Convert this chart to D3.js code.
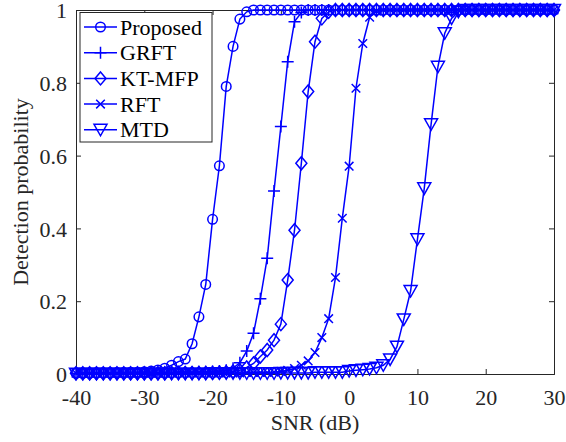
<!DOCTYPE html>
<html><head><meta charset="utf-8">
<script src="https://cdn.jsdelivr.net/npm/d3@7"></script>
<style>body{margin:0;background:#fff}svg{display:block}text{font-family:"Liberation Serif",serif;fill:#262626}</style>
</head><body>
<script>
const snr = [-40,-39,-38,-37,-36,-35,-34,-33,-32,-31,-30,-29,-28,-27,-26,-25,-24,-23,-22,-21,-20,-19,-18,-17,-16,-15,-14,-13,-12,-11,-10,-9,-8,-7,-6,-5,-4,-3,-2,-1,0,1,2,3,4,5,6,7,8,9,10,11,12,13,14,15,16,17,18,19,20,21,22,23,24,25,26,27,28,29,30];
const proposed = [0.002,0.002,0.002,0.003,0.003,0.003,0.004,0.004,0.005,0.005,0.006,0.008,0.011,0.016,0.024,0.034,0.041,0.083,0.157,0.246,0.425,0.572,0.79,0.9,0.975,0.995,1,1,1,1,1,1,1,1,1,1,1,1,1,1,1,1,1,1,1,1,1,1,1,1,1,1,1,1,1,1,1,1,1,1,1,1,1,1,1,1,1,1,1,1,1];
const grft = [0.002,0.002,0.002,0.002,0.002,0.002,0.003,0.003,0.003,0.003,0.003,0.003,0.004,0.004,0.004,0.004,0.005,0.005,0.006,0.006,0.007,0.008,0.01,0.016,0.031,0.063,0.112,0.207,0.318,0.503,0.68,0.858,0.968,0.993,1,1,1,1,1,1,1,1,1,1,1,1,1,1,1,1,1,1,1,1,1,1,1,1,1,1,1,1,1,1,1,1,1,1,1,1,1];
const ktmfp = [0.002,0.002,0.002,0.002,0.002,0.002,0.002,0.002,0.002,0.002,0.002,0.002,0.002,0.002,0.003,0.003,0.003,0.003,0.003,0.003,0.003,0.004,0.005,0.007,0.01,0.018,0.029,0.048,0.066,0.093,0.137,0.258,0.395,0.579,0.776,0.913,0.977,0.995,1,1,1,1,1,1,1,1,1,1,1,1,1,1,1,1,1,1,1,1,1,1,1,1,1,1,1,1,1,1,1,1,1];
const rft = [0.002,0.002,0.002,0.002,0.002,0.002,0.002,0.002,0.002,0.002,0.002,0.002,0.002,0.002,0.002,0.003,0.003,0.003,0.003,0.003,0.003,0.003,0.003,0.003,0.003,0.004,0.004,0.004,0.004,0.005,0.007,0.01,0.015,0.024,0.036,0.059,0.1,0.152,0.265,0.428,0.571,0.785,0.908,0.98,0.997,1,1,1,1,1,1,1,1,1,1,1,1,1,1,1,1,1,1,1,1,1,1,1,1,1,1];
const mtd = [0.001,0.001,0.001,0.001,0.001,0.001,0.001,0.001,0.001,0.001,0.001,0.001,0.001,0.001,0.001,0.001,0.001,0.001,0.001,0.001,0.002,0.002,0.002,0.002,0.002,0.002,0.002,0.002,0.002,0.002,0.003,0.003,0.003,0.003,0.003,0.005,0.005,0.005,0.005,0.005,0.008,0.01,0.012,0.014,0.017,0.024,0.04,0.075,0.15,0.228,0.37,0.51,0.686,0.844,0.936,0.977,0.995,1,1,1,1,1,1,1,1,1,1,1,1,1,1];
const seriesNames = ["Proposed","GRFT","KT-MFP","RFT","MTD"];
const seriesValues = [proposed, grft, ktmfp, rft, mtd];
const seriesMarkers = ["o","+","d","x","v"];
const xTicks = [-40,-30,-20,-10,0,10,20,30];
const yTicks = [0,0.2,0.4,0.6,0.8,1];

const W = 566, H = 442;
const L = 76, R = 554, T = 10, B = 374;
const color = "#0000ff", axisColor = "#262626";
const FONT = '"Liberation Serif", serif';
const svg = d3.select("body").append("svg").attr("width", W).attr("height", H);
const x = d3.scaleLinear().domain([-40,30]).range([L,R]);
const y = d3.scaleLinear().domain([0,1]).range([B,T]);

function markerPath(m){
  if(m==="o") return d3.symbol(d3.symbolCircle, 72)();
  if(m==="+") return "M-6,0H6M0,-6V6";
  if(m==="x") return "M-4.3,-4.3L4.3,4.3M-4.3,4.3L4.3,-4.3";
  if(m==="d") return "M0,-6.5L5.5,0L0,6.5L-5.5,0Z";
  if(m==="v") return "M-6.5,-5.5L6.5,-5.5L0,6Z";
}

const gx = svg.append("g").attr("transform",`translate(0,${B})`)
  .call(d3.axisBottom(x).tickValues(xTicks).tickSize(-5).tickPadding(10).tickFormat(d=>String(d)));
const gxt = svg.append("g").attr("transform",`translate(0,${T})`)
  .call(d3.axisTop(x).tickValues(xTicks).tickSize(-5).tickFormat(""));
const gy = svg.append("g").attr("transform",`translate(${L},0)`)
  .call(d3.axisLeft(y).tickValues(yTicks).tickSize(-5).tickPadding(9).tickFormat(d=>String(d)));
const gyr = svg.append("g").attr("transform",`translate(${R},0)`)
  .call(d3.axisRight(y).tickValues(yTicks).tickSize(-5).tickFormat(""));
[gx,gxt,gy,gyr].forEach(g=>{
  g.attr("font-family", FONT).attr("font-size", 22);
  g.selectAll("path.domain").attr("stroke",axisColor).attr("stroke-width",1);
  g.selectAll(".tick line").attr("stroke",axisColor).attr("stroke-width",1);
  g.selectAll(".tick text").attr("fill",axisColor);
});
gx.selectAll(".tick text").attr("dy","0.95em");
gy.selectAll(".tick text").attr("dy","0.35em");

const line = d3.line().x((d,i)=>x(snr[i])).y(d=>y(d));
seriesValues.forEach((vals,k)=>{
  svg.append("path").datum(vals).attr("d",line).attr("fill","none").attr("stroke",color).attr("stroke-width",1.5);
  svg.append("g").selectAll("path").data(vals).join("path")
    .attr("transform",(d,i)=>`translate(${x(snr[i])},${y(d)})`)
    .attr("d",markerPath(seriesMarkers[k]))
    .attr("fill","none").attr("stroke",color).attr("stroke-width",1.5);
});

const lg = svg.append("g");
lg.append("rect").attr("x",80).attr("y",12.5).attr("width",132).attr("height",129.5)
  .attr("fill","#fff").attr("stroke",axisColor).attr("stroke-width",1);
seriesNames.forEach((n,k)=>{
  const cy = 27 + k*25.7;
  lg.append("line").attr("x1",84).attr("x2",117).attr("y1",cy).attr("y2",cy).attr("stroke",color).attr("stroke-width",1.5);
  lg.append("path").attr("transform",`translate(100.5,${cy})`).attr("d",markerPath(seriesMarkers[k]))
    .attr("fill","none").attr("stroke",color).attr("stroke-width",1.5);
  lg.append("text").attr("x",120).attr("y",cy+7.5).attr("font-family",FONT).attr("font-size",22).style("fill","#000").text(n);
});

svg.append("text").attr("x",(L+R)/2).attr("y",430).attr("text-anchor","middle").attr("font-family",FONT).attr("font-size",22).text("SNR (dB)");
svg.append("text").attr("transform",`translate(28,${(T+B)/2}) rotate(-90)`).attr("text-anchor","middle").attr("font-family",FONT).attr("font-size",22).text("Detection probability");
</script>
</body></html>
